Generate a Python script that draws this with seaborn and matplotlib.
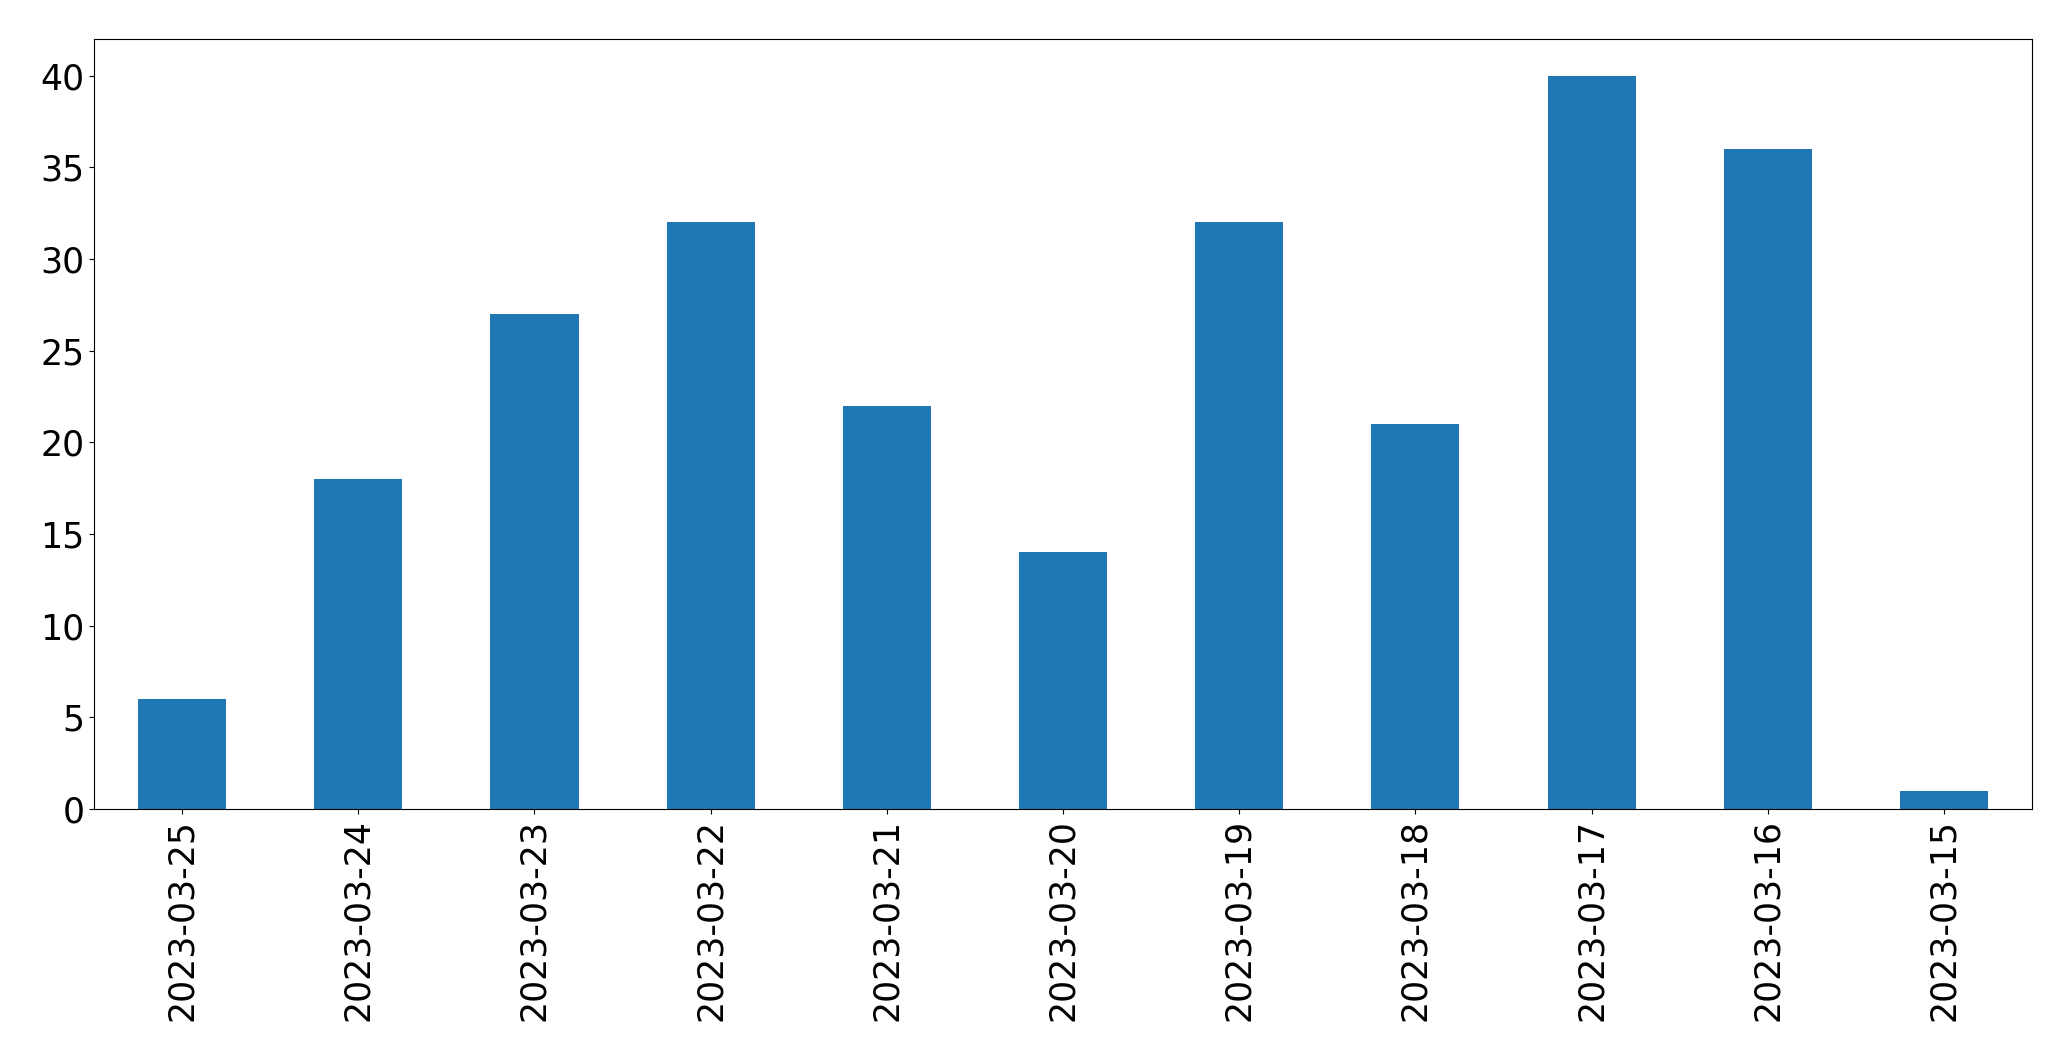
import pandas as pd
import seaborn as sns
import matplotlib.pyplot as plt

# daily counts, newest first
dates = ['2023-03-25', '2023-03-24', '2023-03-23', '2023-03-22', '2023-03-21', '2023-03-20',
         '2023-03-19', '2023-03-18', '2023-03-17', '2023-03-16', '2023-03-15']
counts = [6, 18, 27, 32, 22, 14, 32, 21, 40, 36, 1]

df = pd.DataFrame({'date': dates, 'count': counts})

fig = plt.figure(figsize=(20.71, 10.61), dpi=100)
ax = fig.add_axes([94 / 2071, 1 - 809 / 1061, (2032 - 94) / 2071, (809 - 39) / 1061])
sns.barplot(x='date', y='count', data=df, order=dates, color='#1f77b4',
            saturation=1, width=0.5, ax=ax)
ax.set_xlim(-0.5, len(dates) - 0.5)
ax.set_ylim(0, max(counts) * 1.05)
ax.set_xlabel('')
ax.set_ylabel('')
ax.tick_params(axis='both', labelsize=25)
plt.xticks(rotation=90)
fig.savefig('out.png', dpi=100)
